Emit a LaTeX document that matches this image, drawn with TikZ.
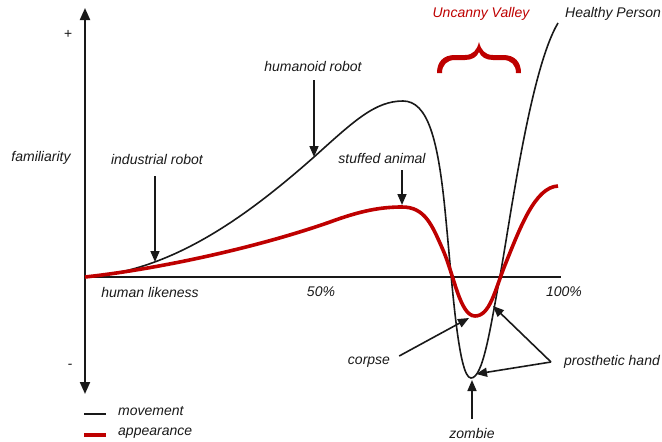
\documentclass[tikz,border=0pt]{standalone}
\usepackage{fontspec}
\setmainfont{Liberation Sans}
\usetikzlibrary{arrows.meta}
\definecolor{valley}{RGB}{190,0,0}
\definecolor{ink}{RGB}{25,25,25}
\tikzset{
  lbl/.style={font=\fontsize{14}{16}\selectfont\itshape, text=ink, inner sep=0pt},
  axisline/.style={line width=2pt, draw=ink},
  movecurve/.style={line width=1.6pt, draw=ink},
  lookcurve/.style={line width=3.6pt, draw=valley},
  pointer/.style={line width=1.6pt, draw=ink, -{Triangle[length=11pt,width=9pt]}},
  axtip/.style={-{Triangle[length=12pt,width=10pt]}}
}
\begin{document}
\begin{tikzpicture}[x=1pt,y=-1pt]
\useasboundingbox (0,0) rectangle (662,442);

% axes
\coordinate (O) at (85,277);
\coordinate (ytop) at (85,8);
\coordinate (ybot) at (85,394);
\coordinate (xend) at (561,277);
\draw[axisline,axtip] (O) -- (ytop);
\draw[axisline,axtip] (O) -- (ybot);
\draw[axisline] (O) -- (xend);

% axis labels
\node[lbl] (plus) at (68,34) {+};
\node[lbl] (minus) at (70,366) {-};
\node[lbl] (fam) at (41,158) {familiarity};
\node[lbl] (hl) at (150,292) {human likeness};
\node[lbl] (half) at (321,292) {50\%};
\node[lbl] (full) at (564,292) {100\%};

% movement curve
\draw[movecurve] (O) .. controls (170,272) and (245,218) .. (314,157)
  .. controls (354,121) and (375,101) .. (403,101)
  .. controls (428,101) and (438,140) .. (445,210)
  .. controls (452,280) and (458,378) .. (471,378)
  .. controls (483,378) and (490,330) .. (500,276)
  .. controls (510,222) and (530,70) .. (558,23);

% appearance curve
\draw[lookcurve] (O) .. controls (150,270) and (250,250) .. (330,222)
  .. controls (360,211) and (380,207) .. (402,207)
  .. controls (425,207) and (432,225) .. (443,250)
  .. controls (454,275) and (460,316) .. (475,316)
  .. controls (490,316) and (495,290) .. (505,265)
  .. controls (520,228) and (535,187) .. (558,186);

% curly brace over the valley, drawn as a filled glyph-like shape
\fill[valley] (437,73) .. controls (437,62) and (443,55) .. (455,55) -- (465,55)
  .. controls (473,55) and (477,50) .. (479,42)
  .. controls (481,50) and (485,55) .. (493,55) -- (503,55)
  .. controls (515,55) and (521,62) .. (521,73)
  -- (516,73) .. controls (516,65) and (511,60) .. (503,60) -- (493,60)
  .. controls (486,60) and (481,57) .. (479,52)
  .. controls (477,57) and (472,60) .. (465,60) -- (455,60)
  .. controls (447,60) and (442,65) .. (442,73) -- cycle;
\node[lbl, text=valley] (uv) at (481,14) {Uncanny Valley};
\node[lbl] (hp) at (613,14) {Healthy Person};

% points on the curves
\coordinate (irtip) at (155,262);
\coordinate (hrtip) at (314,157);
\coordinate (satip) at (402,205);
\coordinate (cptip) at (469,318);
\coordinate (phtop) at (493,306);
\coordinate (phbot) at (476,374);
\coordinate (zbtip) at (472,380);

% labels with pointers
\node[lbl] (ir) at (157,159) {industrial robot};
\node[lbl] (hr) at (313,66) {humanoid robot};
\node[lbl] (sa) at (382,158) {stuffed animal};
\node[lbl] (cp) at (369,362) {corpse};
\node[lbl] (ph) at (612,362) {prosthetic hand};
\node[lbl] (zb) at (472,433) {zombie};
\coordinate (phfrom) at (551,362);

\draw[pointer] (ir.south -| irtip) ++(0,12) -- (irtip);
\draw[pointer] (hr.south -| hrtip) ++(0,9) -- (hrtip);
\draw[pointer] (sa.south -| satip) ++(0,7) -- (satip);
\draw[pointer] (cp.east) ++(9,-6) -- (cptip);
\draw[pointer] (phfrom) -- (phtop);
\draw[pointer] (phfrom) -- (phbot);
\draw[pointer] (zb.north) ++(0,-9) -- (zbtip);

% legend
\coordinate (lm1) at (84,414);
\coordinate (lm2) at (106,414);
\coordinate (la1) at (84,435);
\coordinate (la2) at (106,435);
\draw[movecurve] (lm1) -- (lm2);
\draw[lookcurve] (la1) -- (la2);
\node[lbl, anchor=west] (mv) at (118,411) {movement};
\node[lbl, anchor=west] (ap) at (118,433) {appearance};
\end{tikzpicture}
\end{document}
